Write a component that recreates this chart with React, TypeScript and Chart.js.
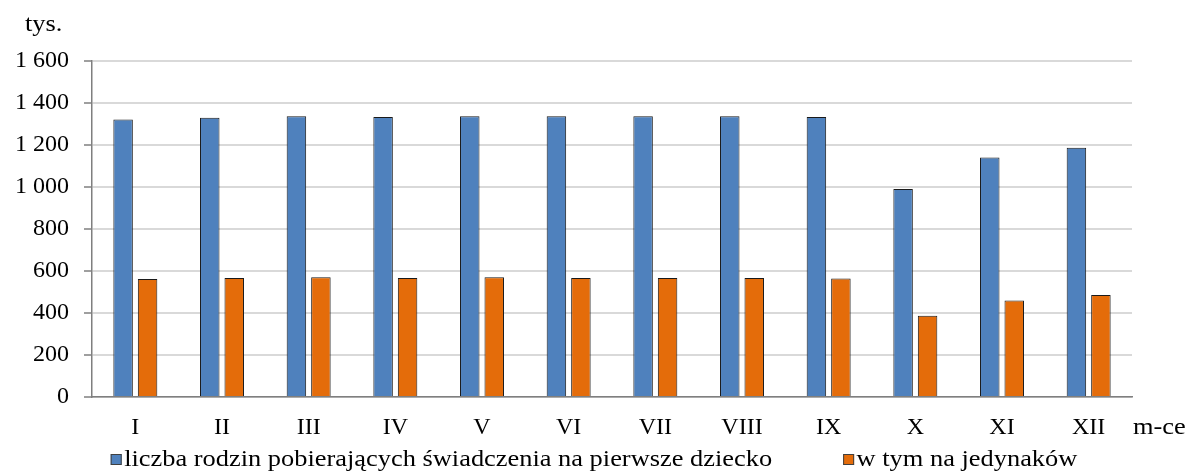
import React, { useEffect, useRef } from "react";
import { Chart, registerables } from "chart.js";

Chart.register(...registerables);

const months = ["I", "II", "III", "IV", "V", "VI", "VII", "VIII", "IX", "X", "XI", "XII"];
const firstChildFamilies = [1321, 1330, 1337, 1333, 1337, 1337, 1337, 1337, 1333, 990, 1141, 1187];
const onlyChildren = [562, 567, 570, 567, 570, 567, 567, 567, 564, 387, 460, 486];
const seriesNames = [
  "liczba rodzin pobierających świadczenia na pierwsze dziecko",
  "w tym na jedynaków",
];
const yUnit = "tys.";
const xUnit = "m-ce";

const BLUE = "#4f81bd";
const ORANGE = "#e46c0a";
const FONT = "'Liberation Serif', 'Times New Roman', serif";
const SX = 1.1;

const fmt = (v: number) => String(v).replace(/\B(?=(\d{3})+(?!\d))/g, " ");

const extrasPlugin = {
  id: "extras",
  afterDraw(chart: any) {
    const ctx = chart.ctx as CanvasRenderingContext2D;
    ctx.save();
    ctx.font = `24px ${FONT}`;
    ctx.fillStyle = "#000";
    ctx.textBaseline = "alphabetic";
    ctx.textAlign = "left";
    const drawText = (t: string, x: number, y: number) => {
      ctx.save();
      ctx.translate(x, y);
      ctx.scale(SX, 1);
      ctx.fillText(t, 0, 0);
      ctx.restore();
    };
    // axis unit labels
    drawText(yUnit, 25, 31);
    drawText(xUnit, chart.chartArea.right + 1, 434);

    // legend
    const colors = [BLUE, ORANGE];
    const box = 11;
    const gapBoxText = 2.5;
    const itemGap = 71;
    const widths = seriesNames.map((n) => box + gapBoxText + ctx.measureText(n).width * SX);
    const total = widths[0] + widths[1] + itemGap;
    let x = 594 - total / 2;
    const baseline = 466;
    seriesNames.forEach((n, i) => {
      ctx.fillStyle = colors[i];
      ctx.fillRect(x, 454, box, box);
      ctx.strokeStyle = "#404040";
      ctx.lineWidth = 1;
      ctx.strokeRect(x + 0.5, 454.5, box - 1, box - 1);
      ctx.fillStyle = "#000";
      drawText(n, x + box + gapBoxText, baseline);
      x += widths[i] + itemGap;
    });
    ctx.restore();
  },
};

export default function App() {
  const ref = useRef<HTMLCanvasElement>(null);
  useEffect(() => {
    if (!ref.current) return;
    const chart = new Chart(ref.current, {
      type: "bar",
      data: {
        labels: months,
        datasets: [
          {
            label: seriesNames[0],
            data: firstChildFamilies,
            backgroundColor: BLUE,
            borderColor: "#1a1a1a",
            borderWidth: 1,
            categoryPercentage: 0.565,
            barPercentage: 0.796,
          },
          {
            label: seriesNames[1],
            data: onlyChildren,
            backgroundColor: ORANGE,
            borderColor: "#1a1a1a",
            borderWidth: 1,
            categoryPercentage: 0.565,
            barPercentage: 0.796,
          },
        ],
      },
      options: {
        responsive: false,
        animation: false,
        devicePixelRatio: 1,
        layout: { padding: { left: 0, right: 58, top: 61, bottom: 0 } },
        plugins: {
          legend: { display: false },
          tooltip: { enabled: false },
        },
        scales: {
          x: {
            grid: { display: false, drawTicks: false },
            border: { display: true, color: "#7f7f7f", width: 1.5 },
            ticks: {
              color: "#000",
              font: { family: FONT, size: 24 },
              padding: 16,
              maxRotation: 0,
              autoSkip: false,
            },
            afterFit: (s: any) => {
              s.height = 76;
            },
          },
          y: {
            min: 0,
            max: 1600,
            ticks: {
              stepSize: 200,
              color: "#000",
              font: { family: FONT, size: 24 },
              padding: 15,
              callback: (v: any) => fmt(Number(v)),
            },
            grid: {
              color: "#d9d9d9",
              lineWidth: 2,
              drawTicks: true,
              tickLength: 8,
              tickColor: "#7f7f7f",
              tickWidth: 1.5,
            },
            border: { display: true, color: "#7f7f7f", width: 1.5 },
            afterFit: (s: any) => {
              s.width = 92;
            },
          },
        },
      },
      plugins: [extrasPlugin],
    });
    return () => chart.destroy();
  }, []);
  return (
    <div style={{ position: "absolute", left: 0, top: 0, width: 1190, height: 473, background: "#fff" }}>
      <canvas ref={ref} width={1190} height={473} style={{ width: 1190, height: 473, display: "block" }} />
    </div>
  );
}
